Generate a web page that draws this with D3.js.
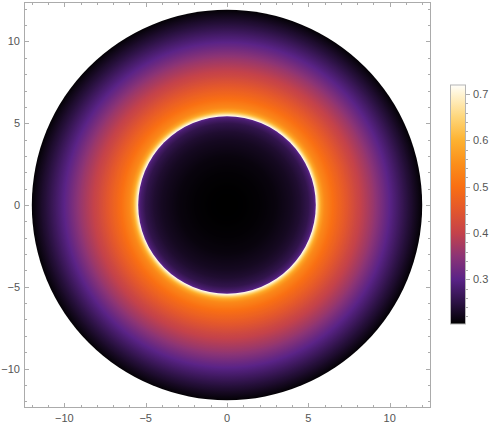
<!DOCTYPE html>
<html>
<head>
<meta charset="utf-8">
<script src="https://cdn.jsdelivr.net/npm/d3@7"></script>
<style>
  body { margin: 0; background: #fff; }
</style>
</head>
<body>
<svg id="chart" width="498" height="430"></svg>
<script>
// tick values
var xTicks = [-10, -5, 0, 5, 10];
var yTicks = [-10, -5, 0, 5, 10];
var minorTicks = d3.range(-12, 13);
var barTicks = [0.3, 0.4, 0.5, 0.6, 0.7];
var barMinorTicks = [0.22, 0.24, 0.26, 0.28, 0.32, 0.34, 0.36, 0.38, 0.42, 0.44, 0.46, 0.48,
   0.52, 0.54, 0.56, 0.58, 0.62, 0.64, 0.66, 0.68];

// radial profile (radius -> value)
var innerRadii = [0, 1, 2, 3, 4, 4.5, 5, 5.3, 5.46];
var innerValues = [0.2035, 0.204, 0.207, 0.213, 0.226, 0.237, 0.255, 0.28, 0.305];
var outerRadii = [5.46, 5.55, 5.65, 5.8, 6.0, 6.5, 7.0, 7.5, 8.0, 8.5, 9.0, 9.5, 10.0, 10.5, 11.0, 11.5, 12.0];
var outerValues = [0.7195, 0.68, 0.63, 0.575, 0.54, 0.5, 0.47, 0.44, 0.41, 0.385, 0.36, 0.33, 0.30, 0.275, 0.25, 0.228, 0.207];
var valueRange = [0.2035, 0.7195];

// colour scheme (sunset-like)
var paletteValues = [0.2035, 0.25, 0.30, 0.35, 0.40, 0.45, 0.50, 0.55, 0.60, 0.65, 0.70, 0.7195];
var paletteColors = ["#000000", "#2c1244", "#5a2387", "#8c3475", "#c4424a", "#e3572c",
   "#f96f13", "#fb8f1a", "#fdb231", "#fed67a", "#fff4d4", "#fffefa"];

var color = d3.scaleLinear().domain(paletteValues).range(paletteColors).interpolate(d3.interpolateRgb).clamp(true);
var innerProfile = d3.scaleLinear().domain(innerRadii).range(innerValues);
var outerProfile = d3.scaleLinear().domain(outerRadii).range(outerValues);

var svg = d3.select("svg#chart");
var x = d3.scaleLinear().domain([-12.48, 12.48]).range([24, 430]);
var y = d3.scaleLinear().domain([-12.35, 12.35]).range([407, 3]);

var defs = svg.append("defs");
var cx = x(0), cy = y(0);

function radialGrad(id, rMax, radii, profile) {
   var g = defs.append("radialGradient")
      .attr("id", id)
      .attr("gradientUnits", "userSpaceOnUse")
      .attr("cx", cx).attr("cy", cy)
      .attr("r", x(rMax) - x(0));
   var r0 = radii[0], r1 = radii[radii.length - 1];
   var steps = d3.range(0, 201).map(function (i) { return r0 + (r1 - r0) * i / 200; });
   g.selectAll("stop").data(steps).enter().append("stop")
      .attr("offset", function (r) { return r / rMax; })
      .attr("stop-color", function (r) { return color(profile(r)); });
}
radialGrad("outerGrad", 12, outerRadii, outerProfile);
radialGrad("innerGrad", 5.46, innerRadii, innerProfile);

// disks
svg.append("circle").attr("cx", cx).attr("cy", cy)
   .attr("r", x(12) - x(0)).attr("fill", "url(#outerGrad)");
svg.append("circle").attr("cx", cx).attr("cy", cy)
   .attr("r", x(5.46) - x(0)).attr("fill", "url(#innerGrad)");

// frame
var frameColor = "#ababab";
var labelColor = "#555555";
var fx0 = 24.5, fx1 = 430.5, fy0 = 2.5, fy1 = 407.5;
svg.append("rect").attr("x", fx0).attr("y", fy0)
   .attr("width", fx1 - fx0).attr("height", fy1 - fy0)
   .attr("fill", "none").attr("stroke", frameColor);

var tickG = svg.append("g").attr("stroke", frameColor).attr("stroke-width", 1);
minorTicks.forEach(function (t) {
   var len = (t % 5 === 0) ? 4.5 : 2.5;
   var px = Math.round(x(t)) + 0.5, py = Math.round(y(t)) + 0.5;
   tickG.append("line").attr("x1", px).attr("x2", px).attr("y1", fy1).attr("y2", fy1 - len);
   tickG.append("line").attr("x1", px).attr("x2", px).attr("y1", fy0).attr("y2", fy0 + len);
   tickG.append("line").attr("y1", py).attr("y2", py).attr("x1", fx0).attr("x2", fx0 + len);
   tickG.append("line").attr("y1", py).attr("y2", py).attr("x1", fx1).attr("x2", fx1 - len);
});

function fmt(v) { return v < 0 ? "\u2212" + Math.abs(v) : "" + v; }

var labels = svg.append("g")
   .attr("font-family", "'Liberation Sans', Arial, sans-serif")
   .attr("font-size", 11)
   .attr("fill", labelColor);

labels.append("g").selectAll("text").data(xTicks).enter().append("text")
   .attr("x", function (d) { return x(d); })
   .attr("y", 422)
   .attr("text-anchor", "middle")
   .text(fmt);

labels.append("g").selectAll("text").data(yTicks).enter().append("text")
   .attr("x", 20)
   .attr("y", function (d) { return y(d) + 4; })
   .attr("text-anchor", "end")
   .text(fmt);

// colour bar
var bar = d3.scaleLinear().domain(valueRange).range([324, 85]);
var lg = defs.append("linearGradient").attr("id", "barGrad")
   .attr("x1", 0).attr("y1", 1).attr("x2", 0).attr("y2", 0);
lg.selectAll("stop").data(paletteValues).enter().append("stop")
   .attr("offset", function (d) { return (d - valueRange[0]) / (valueRange[1] - valueRange[0]); })
   .attr("stop-color", function (d) { return color(d); });

svg.append("rect").attr("x", 450.5).attr("y", bar(valueRange[1]))
   .attr("width", 15).attr("height", bar(valueRange[0]) - bar(valueRange[1]))
   .attr("fill", "url(#barGrad)").attr("stroke", "#b5b5b5").attr("stroke-width", 1);

var barTickG = svg.append("g").attr("stroke", frameColor);
barTicks.forEach(function (t) {
   var py = Math.round(bar(t)) + 0.5;
   barTickG.append("line").attr("x1", 466).attr("x2", 470).attr("y1", py).attr("y2", py);
});
barMinorTicks.forEach(function (t) {
   var py = Math.round(bar(t)) + 0.5;
   barTickG.append("line").attr("x1", 466).attr("x2", 468).attr("y1", py).attr("y2", py);
});
labels.append("g").selectAll("text").data(barTicks).enter().append("text")
   .attr("x", 473)
   .attr("y", function (d) { return bar(d) + 4; })
   .text(function (d) { return d.toFixed(1); });
</script>
</body>
</html>
